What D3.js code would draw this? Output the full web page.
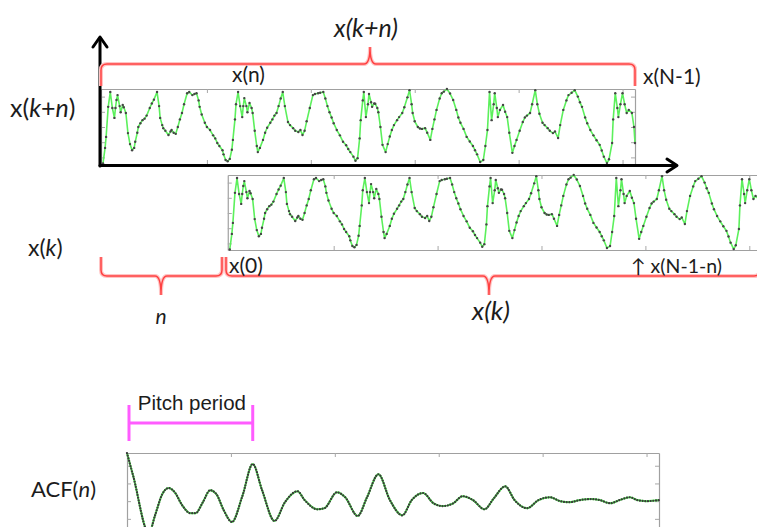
<!DOCTYPE html>
<html><head><meta charset="utf-8">
<script src="https://cdn.jsdelivr.net/npm/d3@7"></script>
<style>html,body{margin:0;padding:0;background:#fff;overflow:hidden}</style>
</head><body><svg id="c" width="757" height="527" xmlns="http://www.w3.org/2000/svg"></svg>
<script>
// ---- data ----
// speech-like signal: sample index and amplitude
const signalT = [
  0,2,3,5,7,9,11,12,13,14,16,17,19,20,22,24,26,28,30,31,33,34,36,38,40,42,45,47,49,52,54,55,57,58,60,63,65,66,68,70,72,74,76,78,81,83,86,88,90,92,93,95,98,100,103,106,108,110,112,115,116,118,120,122,124,125,
  127,128,130,132,134,135,136,138,139,141,143,144,146,148,149,151,154,156,158,161,163,165,167,169,171,173,175,178,180,183,185,188,190,192,194,196,199,202,204,207,209,212,214,216,218,220,222,225,228,231,234,236,238,241,243,245,247,248,
  250,251,253,255,256,258,259,261,262,264,265,267,269,272,274,276,278,280,283,285,288,290,293,295,297,298,300,303,305,307,310,312,315,317,319,321,324,326,328,331,334,337,340,342,344,347,350,353,356,358,360,363,366,368,370,
  372,374,376,377,379,380,382,385,387,389,391,394,396,398,401,404,406,408,411,413,416,418,420,423,425,428,430,433,435,438,440,443,446,448,451,454,457,459,461,464,466,469,472,475,478,480,482,485,487,490,
  491,493,495,496,498,500,502,504,506,509,511,512];
const signalV = [
  -0.96,-0.55,-0.26,0.53,0.92,0.50,0.24,0.50,0.71,0.84,0.55,0.39,0.58,0.52,0.37,-0.16,-0.45,-0.61,-0.55,-0.39,-0.15,0.00,0.10,0.18,0.22,0.30,0.50,0.62,0.72,0.92,0.55,0.24,0.05,-0.03,-0.10,-0.21,-0.12,-0.08,-0.15,-0.18,0.00,0.20,0.37,0.60,0.89,0.92,0.84,0.87,0.89,0.70,0.53,0.33,0.11,0.00,-0.08,-0.22,-0.30,-0.42,-0.50,-0.61,-0.72,-0.87,-0.90,-0.84,-0.60,-0.34,
  0.20,0.60,0.92,0.55,0.26,0.55,0.76,0.55,0.39,0.63,0.50,0.37,-0.10,-0.50,-0.66,-0.55,-0.34,-0.15,-0.02,0.11,0.20,0.30,0.37,0.55,0.75,0.92,0.55,0.13,0.05,-0.03,-0.10,-0.13,-0.08,-0.21,-0.10,0.15,0.50,0.84,0.87,0.89,0.90,0.92,0.75,0.55,0.39,0.25,0.10,-0.08,-0.22,-0.39,-0.48,-0.58,-0.66,-0.78,-0.89,-0.82,-0.30,0.18,
  0.70,0.92,0.26,0.60,0.87,0.65,0.53,0.62,0.61,0.50,0.39,0.00,-0.47,-0.66,-0.45,-0.25,-0.08,0.05,0.18,0.26,0.37,0.52,0.78,0.97,0.60,0.37,0.15,0.00,-0.04,-0.05,-0.03,-0.15,-0.34,-0.05,0.20,0.45,0.75,0.89,0.93,1.00,0.88,0.71,0.45,0.25,0.11,-0.05,-0.26,-0.38,-0.50,-0.61,-0.72,-0.92,-0.87,-0.50,-0.08,
  0.92,0.18,0.60,0.89,0.50,0.26,0.45,0.58,0.40,0.26,-0.15,-0.68,-0.50,-0.34,-0.10,0.13,0.25,0.30,0.37,0.60,0.97,0.60,0.35,0.11,0.05,-0.03,-0.10,-0.16,-0.12,-0.29,0.05,0.45,0.70,0.84,0.90,0.97,0.80,0.65,0.53,0.25,0.10,-0.08,-0.22,-0.35,-0.47,-0.62,-0.78,-0.95,-0.85,-0.42,
  0.20,0.89,0.50,0.26,0.60,0.89,0.60,0.37,0.45,0.37,0.00,-0.42];
// autocorrelation function: lag and value
const acfLag = [0,6,21,27,34,40,46,53,61,66,73,80,86,93,101,111,121,130,142,152,164,171,183,190,202,210,222,231,242,253,265,274,285,295,304,314,323,333,344,353,364,373,385,396,407,417,426,436,446,455,465,474,484,491,500,512];
const acfV = [1.36,0.71,-0.90,-0.40,0.20,0.37,0.25,-0.11,-0.34,-0.34,-0.03,0.31,0.20,-0.25,-0.59,0.14,1.05,0.31,-0.56,-0.03,0.28,0.03,-0.23,-0.20,0.25,0.11,-0.42,0.11,0.76,0.03,-0.40,0.03,0.23,-0.06,-0.14,-0.06,0.14,0.03,-0.23,0.08,0.42,0.03,-0.20,0.03,0.11,0.00,-0.03,0.03,0.06,0.03,-0.06,0.03,0.11,0.03,0.00,0.03];
const sampleTicks = [100,200,300,400,500];
const signalYTicks = [-0.8,-0.4,0,0.4,0.8];
const acfYTicks = [1,0.5,0,-0.5];
const shiftN = 122;          // lag n used for the shifted copy
const pitchLag = 121;        // pitch period in lags
const nSamples = 512;

const svg = d3.select('#c');
const FONT = 'Lato, "Open Sans", sans-serif';
const TXT = '#1c1c1c';

// ---- scales ----
const xTop = d3.scaleLinear().domain([0, nSamples]).range([103, 635]);
const yTop = d3.scaleLinear().domain([-1, 1]).range([165, 89]);
const shiftPx = xTop(shiftN) - xTop(0);
const xBot = d3.scaleLinear().domain([0, nSamples]).range([103 + shiftPx, 635 + shiftPx]);
const yBot = d3.scaleLinear().domain([-1, 1]).range([251, 175]);
const xAcf = d3.scaleLinear().domain([0, nSamples]).range([127, 659]);
const yAcf = d3.scaleLinear().domain([-1.6, 1.36]).range([557.8, 453]);

function frame(g, x, y, left, right, top, bottom, xt, yt) {
  const mk = (ax, tr) => {
    const a = g.append('g').attr('transform', tr).call(ax);
    a.selectAll('path.domain').attr('stroke', '#a0a0a0').attr('stroke-width', 1.2);
    a.selectAll('line').attr('stroke', '#a8a8a8').attr('stroke-width', 1);
    a.selectAll('text').remove();
  };
  const xs = x.copy().domain([x.invert(left), x.invert(right)]).range([left, right]);
  const ys = y.copy().domain([y.invert(bottom), y.invert(top)]).range([bottom, top]);
  mk(d3.axisTop(xs).tickValues(xt).tickSizeInner(-4).tickSizeOuter(0).tickFormat(''), `translate(0,${top})`);
  mk(d3.axisBottom(xs).tickValues(xt).tickSizeInner(-4).tickSizeOuter(0).tickFormat(''), `translate(0,${bottom})`);
  mk(d3.axisLeft(ys).tickValues(yt).tickSizeInner(-4).tickSizeOuter(0).tickFormat(''), `translate(${left},0)`);
  mk(d3.axisRight(ys).tickValues(yt).tickSizeInner(-4).tickSizeOuter(0).tickFormat(''), `translate(${right},0)`);
}

function signalPanel(x, y, left, right, top, bottom) {
  const g = svg.append('g');
  frame(g, x, y, left, right, top, bottom, sampleTicks, signalYTicks);
  const pts = signalT.map((t, i) => [t, signalV[i]]);
  g.append('path').datum(pts)
    .attr('d', d3.line().x(d => x(d[0])).y(d => y(d[1])))
    .attr('fill', 'none').attr('stroke', '#5cf05c').attr('stroke-width', 1.6).attr('stroke-linejoin', 'round');
  g.selectAll('circle').data(pts).join('circle')
    .attr('cx', d => x(d[0])).attr('cy', d => y(d[1])).attr('r', 1.2).attr('fill', '#454545');
}

signalPanel(xTop, yTop, 101, 635, 89, 164);
signalPanel(xBot, yBot, 101 + shiftPx, 635 + shiftPx, 175, 250);

// ---- black axes with arrows ----
const ax = svg.append('g').attr('stroke', '#000').attr('fill', 'none').attr('stroke-width', 3).attr('stroke-linecap', 'round').attr('stroke-linejoin', 'round');
ax.append('path').attr('d', 'M100,166 L100,38');
ax.append('path').attr('d', 'M93,47 L100,37 L107,47');
ax.append('path').attr('d', 'M100,165.5 L676,165.5');
ax.append('path').attr('d', 'M667,159 L677,165.5 L667,172');

// ---- braces ----
function brace(x1, x2, yEnd, yLine, xc, yTip, r) {
  const s = Math.sign(yEnd - yLine);
  return `M${x1},${yEnd} L${x1},${yLine + s * r} Q${x1},${yLine} ${x1 + r},${yLine} L${xc - r},${yLine} Q${xc},${yLine} ${xc},${yTip} Q${xc},${yLine} ${xc + r},${yLine} L${x2 - r},${yLine} Q${x2},${yLine} ${x2},${yLine + s * r} L${x2},${yEnd}`;
}
const braces = [
  brace(101, 635, 86, 64, 370, 47, 6),
  brace(101, 222, 257, 276, 161, 295, 6),
  brace(226, 760, 257, 276, 489, 295, 6)
];
braces.forEach(d => {
  svg.append('path').attr('d', d).attr('fill', 'none').attr('stroke', '#ffc4c4').attr('stroke-width', 4);
  svg.append('path').attr('d', d).attr('fill', 'none').attr('stroke', '#ff4040').attr('stroke-width', 1.5);
});

// ---- labels ----
function label(x, y, parts, size, anchor) {
  const t = svg.append('text').attr('x', x).attr('y', y).attr('font-family', FONT).attr('font-size', size)
    .attr('fill', TXT).attr('text-anchor', anchor || 'start');
  parts.forEach(p => t.append('tspan').text(p[0]).attr('font-style', p[1] ? 'italic' : 'normal'));
  return t;
}
label(366, 37, [['x(k+n)', 1]], 25, 'middle');
label(232, 82, [['x(n)', 0]], 21);
label(643, 84, [['x(N-1)', 0]], 21);
label(10, 117, [['x(', 0], ['k', 1], ['+', 0], ['n', 1], [')', 0]], 25);
label(28, 256, [['x(', 0], ['k', 1], [')', 0]], 23);
label(229, 273, [['x(0)', 0]], 21);
label(631, 273, [['↑ x(N-1-n)', 0]], 19.5);
label(161, 324, [['n', 1]], 21, 'middle');
label(491, 320, [['x(k)', 1]], 26, 'middle');
label(31, 497, [['ACF(', 0], ['n', 1], [')', 0]], 22);

// ---- pitch period marker ----
const pp = svg.append('g').attr('stroke', '#ff5cff').attr('stroke-width', 3).attr('fill', 'none');
const px0 = xAcf(0) + 2, px1 = xAcf(pitchLag);
pp.append('line').attr('x1', px0).attr('x2', px0).attr('y1', 405).attr('y2', 441);
pp.append('line').attr('x1', px1).attr('x2', px1).attr('y1', 405).attr('y2', 441);
pp.append('line').attr('x1', px0).attr('x2', px1).attr('y1', 423).attr('y2', 423);
svg.append('text').attr('x', (px0 + px1) / 2 + 1).attr('y', 410).attr('text-anchor', 'middle')
  .attr('font-family', '"Liberation Sans", Arial, sans-serif').attr('font-size', 20.5).attr('fill', TXT).text('Pitch period');

// ---- ACF panel ----
const ga = svg.append('g');
frame(ga, xAcf, yAcf, 127, 659, 453, 560, sampleTicks, acfYTicks);
const acfPts = acfLag.map((l, i) => [l, acfV[i]]);
const acfLine = d3.line().x(d => xAcf(d[0])).y(d => yAcf(d[1])).curve(d3.curveMonotoneX);
ga.append('path').datum(acfPts).attr('d', acfLine).attr('fill', 'none').attr('stroke', '#52ec52').attr('stroke-width', 2);
ga.append('path').datum(acfPts).attr('d', acfLine).attr('fill', 'none').attr('stroke', '#3a3a3a')
  .attr('stroke-width', 2.2).attr('stroke-linecap', 'round').attr('stroke-dasharray', '0.1 2.6');
</script></body></html>
